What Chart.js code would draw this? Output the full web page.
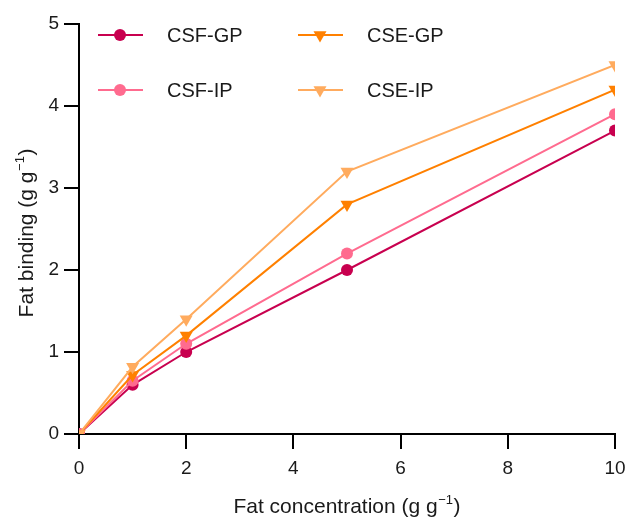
<!DOCTYPE html>
<html><head><meta charset="utf-8">
<script src="https://cdn.jsdelivr.net/npm/chart.js@4.4.0/dist/chart.umd.min.js"></script>
<style>html,body{margin:0;padding:0;background:#fff}#wrap{width:629px;height:518px}</style>
</head><body><div id="wrap"><canvas id="c" width="629" height="518"></canvas></div>
<script>
const concentrations = [0, 1, 2, 5, 10];
const csfGP = [0, 0.6, 1.0, 2.0, 3.7];
const csfIP = [0, 0.65, 1.1, 2.2, 3.9];
const cseGP = [0, 0.72, 1.2, 2.8, 4.2];
const cseIP = [0, 0.82, 1.4, 3.2, 4.5];
const seriesNames = ['CSF-GP', 'CSE-GP', 'CSF-IP', 'CSE-IP'];
const xTicks = [0, 2, 4, 6, 8, 10];
const yTicks = [0, 1, 2, 3, 4, 5];
const xTitle = ['Fat concentration (g g', '\u22121', ')'];
const yTitle = ['Fat binding (g g', '\u22121', ')'];

const FONT = 'Arial, "Liberation Sans", sans-serif';
const TXT = '#1a1a1a';
function mk(label, vals, color, tri) {
  return {
    label, data: concentrations.map((x, i) => ({x, y: vals[i]})),
    borderColor: color, backgroundColor: color, borderWidth: 2,
    pointStyle: tri ? 'triangle' : 'circle', rotation: tri ? 180 : 0,
    pointRadius: tri ? 7.5 : 6, pointHoverRadius: tri ? 7.5 : 6, pointBorderWidth: 0
  };
}
const datasets = [
  mk(seriesNames[3], cseIP, '#ffab5e', true),
  mk(seriesNames[1], cseGP, '#ff8000', true),
  mk(seriesNames[2], csfIP, '#ff6b8f', false),
  mk(seriesNames[0], csfGP, '#c8004f', false)
];

function drawSup(ctx, parts, x, y, size) {
  const ss = size * 0.62;
  ctx.font = size + 'px ' + FONT;
  const w0 = ctx.measureText(parts[0]).width;
  const w2 = ctx.measureText(parts[2]).width;
  ctx.font = ss + 'px ' + FONT;
  const w1 = ctx.measureText(parts[1]).width;
  const total = w0 + w1 + w2 + 1;
  let sx = x - total / 2;
  ctx.textAlign = 'left'; ctx.textBaseline = 'alphabetic';
  ctx.font = size + 'px ' + FONT;
  ctx.fillText(parts[0], sx, y);
  ctx.font = ss + 'px ' + FONT;
  ctx.fillText(parts[1], sx + w0 + 0.5, y - size * 0.45);
  ctx.font = size + 'px ' + FONT;
  ctx.fillText(parts[2], sx + w0 + w1 + 1, y);
}

const extras = {
  id: 'extras',
  afterDraw(chart) {
    const ctx = chart.ctx, a = chart.chartArea;
    const xs = chart.scales.x, ys = chart.scales.y;
    ctx.save();
    ctx.strokeStyle = '#000'; ctx.lineWidth = 2;
    ctx.beginPath();
    xTicks.forEach(v => { const p = Math.round(xs.getPixelForValue(v)); ctx.moveTo(p, a.bottom); ctx.lineTo(p, a.bottom + 15); });
    yTicks.forEach(v => { const p = Math.round(ys.getPixelForValue(v)); ctx.moveTo(a.left, p); ctx.lineTo(a.left - 15, p); });
    ctx.stroke();
    ctx.fillStyle = TXT;
    drawSup(ctx, xTitle, (a.left + a.right) / 2, 513, 21);
    ctx.save();
    ctx.translate(33, 233);
    ctx.rotate(-Math.PI / 2);
    drawSup(ctx, yTitle, 0, 0, 21);
    ctx.restore();
    const order = [3, 1, 2, 0];
    const pos = [[98, 35], [298, 35], [98, 90], [298, 90]];
    order.forEach((di, k) => {
      const ds = chart.data.datasets[di];
      const [lx, ly] = pos[k];
      ctx.strokeStyle = ds.borderColor; ctx.lineWidth = 2;
      ctx.beginPath(); ctx.moveTo(lx, ly); ctx.lineTo(lx + 45, ly); ctx.stroke();
      ctx.fillStyle = ds.backgroundColor;
      Chart.helpers.drawPoint(ctx, {pointStyle: ds.pointStyle, rotation: ds.rotation, radius: ds.pointRadius, borderWidth: 0}, lx + 22, ly);
      ctx.fillStyle = TXT;
      ctx.font = '20px ' + FONT; ctx.textAlign = 'left'; ctx.textBaseline = 'alphabetic';
      ctx.fillText(ds.label, lx + 69, ly + 7);
    });
    ctx.restore();
  }
};

new Chart(document.getElementById('c'), {
  type: 'line',
  data: {datasets},
  options: {
    responsive: false, animation: false,
    layout: {padding: {top: 24, right: 14, left: 0, bottom: 0}},
    plugins: {legend: {display: false}, tooltip: {enabled: false}},
    scales: {
      x: {
        type: 'linear', min: 0, max: 10,
        afterBuildTicks(s) { s.ticks = xTicks.map(v => ({value: v})); },
        ticks: {color: TXT, font: {size: 19, family: FONT}, padding: 15, maxRotation: 0},
        grid: {display: false},
        border: {display: true, color: '#000', width: 2},
        afterFit(s) { s.height = 84; s.paddingLeft = 0; s.paddingRight = 0; }
      },
      y: {
        min: 0, max: 5,
        afterBuildTicks(s) { s.ticks = yTicks.map(v => ({value: v})); },
        ticks: {color: TXT, font: {size: 19, family: FONT}, padding: 12},
        grid: {display: false},
        border: {display: true, color: '#000', width: 2},
        afterFit(s) { s.width = 79; s.paddingTop = 0; s.paddingBottom = 0; }
      }
    }
  },
  plugins: [extras]
});
</script>
</body></html>
